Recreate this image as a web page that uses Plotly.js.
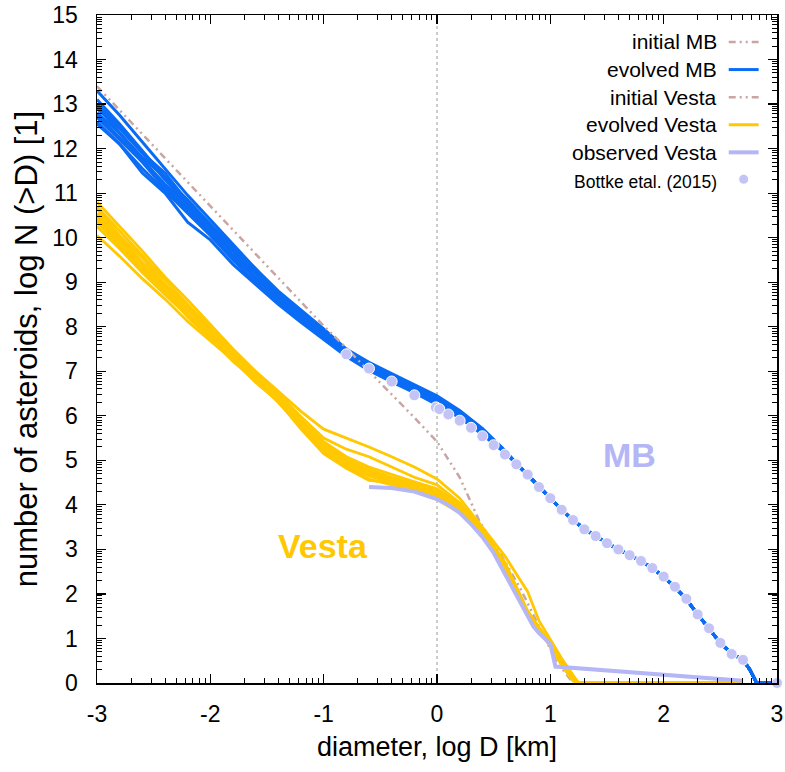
<!DOCTYPE html>
<html>
<head>
<meta charset="utf-8">
<script src="https://cdn.plot.ly/plotly-3.0.1.min.js"></script>
<style>html,body{margin:0;padding:0;background:#fff}#plot{width:785px;height:772px}</style>
</head>
<body>
<div id="plot"></div>
<script>
// ---------- data ----------
const mbX = [-3,-2.8,-2.6,-2.4,-2.2,-2,-1.8,-1.6,-1.4,-1.2,-1,-0.8,-0.6,-0.4,-0.2,0,0.2,0.4,0.6];
const mb1  = [13.3,12.75,12.15,11.55,10.95,10.4,9.85,9.3,8.8,8.38,7.95,7.5,7.2,6.95,6.7,6.45,6.12,5.72,5.22];
const mb2  = [13.1,12.55,11.95,11.35,10.85,10.3,9.8,9.25,8.75,8.3,7.9,7.48,7.18,6.92,6.66,6.4,6.08,5.7,5.21];
const mb3  = [12.95,12.35,11.8,11.35,10.7,10.25,9.6,9.2,8.65,8.25,7.88,7.45,7.12,6.88,6.62,6.36,6.05,5.66,5.2];
const mb4  = [12.8,12.35,11.75,11.2,10.75,10.1,9.7,9.05,8.7,8.22,7.82,7.4,7.1,6.84,6.6,6.32,6.02,5.64,5.19];
const mb5  = [12.7,12.2,11.7,11.1,10.6,10.1,9.55,9.1,8.6,8.2,7.8,7.38,7.06,6.8,6.56,6.3,6.0,5.62,5.18];
const mb6  = [12.6,12.1,11.55,11.05,10.55,10.05,9.5,9.0,8.55,8.15,7.75,7.35,7.05,6.78,6.54,6.28,5.98,5.6,5.18];
const mb7  = [12.55,12.1,11.45,11.0,10.35,9.95,9.4,8.95,8.5,8.1,7.72,7.33,7.02,6.76,6.52,6.25,5.96,5.58,5.17];
const mb8  = [12.9,12.45,11.9,11.3,10.8,10.2,9.75,9.2,8.72,8.3,7.84,7.44,7.1,6.86,6.58,6.34,6.04,5.65,5.2];
const mb9  = [13.0,12.5,11.9,11.45,10.8,10.3,9.75,9.3,8.7,8.32,7.86,7.44,7.15,6.9,6.64,6.38,6.06,5.68,5.21];
const mb10 = [12.75,12.25,11.7,11.15,10.65,10.15,9.6,9.1,8.62,8.2,7.8,7.4,7.08,6.82,6.57,6.3,6.0,5.63,5.19];
const mbTailX = [0.7,0.8,0.9,1.0,1.1,1.2,1.3,1.4,1.5,1.6,1.7,1.8,1.9,2.0,2.1,2.2,2.3,2.4,2.5,2.6,2.7,2.76,2.82,3.0];
const mbTailY = [4.93,4.68,4.41,4.15,3.89,3.66,3.46,3.3,3.14,3.0,2.87,2.74,2.58,2.38,2.15,1.88,1.54,1.23,0.9,0.66,0.52,0.3,0,0];

const initMbY = [12.7,12.2,11.7,11.1,10.6,10.1,9.55,9.1,8.6,8.2,7.8,7.38,7.06,6.8,6.56,6.3,6.0,5.62,5.18];

const initVestaX = [-3,-2,-1.5,-1,-0.8,-0.6,-0.4,-0.2,0,0.2,0.38,0.55,0.74,0.97,1.05,1.2];
const initVestaY = [13.4,10.7,9.35,8.02,7.52,7.0,6.5,5.96,5.42,4.62,3.6,2.95,2.1,0.9,0.5,0];

const vX = [-3,-2.8,-2.6,-2.4,-2.2,-2,-1.8,-1.6,-1.4,-1.2,-1,-0.8,-0.6,-0.4,-0.2,0,0.2,0.4,0.6,0.8,0.9,1.0,1.1,1.2,1.25,2.7];
const v1  = [10.8,10.25,9.7,9.12,8.6,8.05,7.5,7.0,6.55,6.1,5.7,5.5,5.3,5.08,4.85,4.58,4.15,3.5,2.85,2.05,1.4,0.98,0.55,0.18,0,0];
const v2  = [10.7,10.15,9.58,9.05,8.5,7.98,7.42,6.95,6.5,5.98,5.5,5.25,5.08,4.85,4.62,4.45,4.05,3.45,2.7,1.62,1.25,0.92,0.5,0.14,0,0];
const v3  = [10.65,10.05,9.55,8.95,8.48,7.9,7.45,6.88,6.48,5.9,5.42,5.08,4.85,4.68,4.52,4.36,4.0,3.42,2.66,1.6,1.22,0.9,0.48,0.12,0,0];
const v4  = [10.55,10.0,9.45,8.95,8.38,7.92,7.35,6.92,6.42,5.85,5.38,5.02,4.8,4.62,4.48,4.3,3.96,3.4,2.64,1.58,1.2,0.88,0.46,0.1,0,0];
const v5  = [10.5,9.98,9.42,8.88,8.4,7.82,7.38,6.82,6.45,5.82,5.32,4.98,4.75,4.58,4.44,4.26,3.93,3.38,2.62,1.57,1.18,0.86,0.44,0.08,0,0];
const v6  = [10.45,9.92,9.38,8.85,8.3,7.8,7.28,6.85,6.38,5.78,5.28,4.95,4.7,4.55,4.4,4.22,3.9,3.36,2.6,1.56,1.17,0.85,0.43,0.07,0,0];
const v7  = [10.4,9.85,9.35,8.78,8.3,7.72,7.3,6.78,6.35,5.72,5.22,4.9,4.65,4.5,4.35,4.18,3.86,3.33,2.6,1.55,1.16,0.84,0.42,0.06,0,0];
const v8  = [10.35,9.82,9.28,8.8,8.22,7.75,7.22,6.8,6.3,5.75,5.18,4.85,4.58,4.45,4.3,4.12,3.82,3.3,2.58,1.54,1.15,0.83,0.4,0.05,0,0];
const v9  = [10.25,9.75,9.22,8.72,8.25,7.8,7.32,6.85,6.4,5.8,5.25,4.92,4.68,4.52,4.38,4.2,3.88,3.35,2.61,1.56,1.17,0.85,0.43,0.07,0,0];
const v10 = [10.05,9.58,9.08,8.62,8.12,7.68,7.25,6.75,6.32,5.7,5.15,4.82,4.55,4.5,4.34,4.15,3.84,3.32,2.59,1.55,1.16,0.84,0.42,0.06,0,0];

const obsVestaX = [-0.6,-0.4,-0.2,0,0.1,0.2,0.3,0.4,0.5,0.6,0.7,0.8,0.85,0.9,0.95,1.0,1.045,2.7];
const obsVestaY = [4.4,4.38,4.3,4.13,4.0,3.82,3.57,3.28,2.92,2.44,2.0,1.5,1.27,1.12,1.0,0.88,0.37,0.05];

const bottkeX = [-0.8,-0.6,-0.4,-0.2,-0.01,0.02,0.1,0.2,0.3,0.4,0.5,0.6,0.7,0.8,0.9,1.0,1.1,1.2,1.3,1.4,1.5,1.6,1.7,1.8,1.9,2.0,2.1,2.2,2.3,2.4,2.5,2.6,2.7,3.0];
const bottkeY = [7.38,7.06,6.77,6.46,6.19,6.15,6.03,5.89,5.73,5.54,5.34,5.13,4.91,4.68,4.40,4.15,3.89,3.66,3.45,3.30,3.14,3.00,2.87,2.74,2.58,2.39,2.16,1.89,1.54,1.23,0.90,0.65,0.52,0.0];

const xTicks = [-3,-2,-1,0,1,2,3];
const yTicks = [0,1,2,3,4,5,6,7,8,9,10,11,12,13,14,15];
const legendLabels = ["initial MB","evolved MB","initial Vesta","evolved Vesta","observed Vesta","Bottke etal. (2015)"];

// ---------- styles ----------
const C_BLUE = "#0a6cf5";
const C_GOLD = "#ffc800";
const C_LAV = "#b4b6f6";
const C_DOT = "#c3c4f5";
const C_ROSE = "#c9a5a3";
const DASHDOT = "7px,4px,2px,4px,2px,4px";
const FONT = "Liberation Sans, Arial, sans-serif";

const traces = [];
traces.push({x: mbX.concat(mbTailX), y: initMbY.concat(mbTailY), mode: "lines",
  line: {color: C_ROSE, width: 2, dash: DASHDOT}, hoverinfo: "skip"});
[mb1,mb2,mb3,mb4,mb5,mb6,mb7,mb8,mb9,mb10].forEach(r => {
  traces.push({x: mbX.concat(mbTailX), y: r.concat(mbTailY), mode: "lines",
    line: {color: C_BLUE, width: 3}, hoverinfo: "skip"});
});
traces.push({x: initVestaX, y: initVestaY, mode: "lines",
  line: {color: C_ROSE, width: 2.5, dash: DASHDOT}, hoverinfo: "skip"});
[v1,v2,v3,v4,v5,v6,v7,v8,v9,v10].forEach(r => {
  traces.push({x: vX, y: r, mode: "lines", line: {color: C_GOLD, width: 2.8}, hoverinfo: "skip"});
});
traces.push({x: obsVestaX, y: obsVestaY, mode: "lines", line: {color: C_LAV, width: 4}, hoverinfo: "skip"});
traces.push({x: bottkeX, y: bottkeY, mode: "markers", cliponaxis: false,
  marker: {color: C_DOT, size: 11, line: {color: "#ffffff", width: 1}}, hoverinfo: "skip"});

// minor log-style ticks
const minorX = [], minorY = [];
for (let k = -3; k < 3; k++) for (let m = 2; m <= 9; m++) minorX.push(k + Math.log10(m));
for (let k = 0; k < 15; k++) for (let m = 2; m <= 9; m++) minorY.push(k + Math.log10(m));

// manual legend (symbols on the right, gnuplot style)
const annotations = [];
const shapes = [];
const rowTop = 0.9596, rowStep = 0.0413;
const legendStyles = [
  {type: "line", color: C_ROSE, dash: DASHDOT, width: 2.5},
  {type: "line", color: C_BLUE, dash: "solid", width: 3},
  {type: "line", color: C_ROSE, dash: DASHDOT, width: 2.5},
  {type: "line", color: C_GOLD, dash: "solid", width: 3},
  {type: "line", color: C_LAV, dash: "solid", width: 4},
  {type: "dot", color: C_DOT}
];
legendLabels.forEach((lab, i) => {
  const yy = rowTop - i * rowStep - (i === 5 ? 0.003 : 0);
  annotations.push({xref: "paper", yref: "paper", x: 0.914, y: yy, xanchor: "right", yanchor: "middle",
    text: lab, showarrow: false, font: {family: FONT, size: i === 5 ? 17.5 : 21, color: "#000"}});
  const st = legendStyles[i];
  if (st.type === "line") {
    shapes.push({type: "line", xref: "paper", yref: "paper", x0: 0.929, x1: 0.973, y0: yy, y1: yy,
      line: {color: st.color, width: st.width, dash: st.dash}});
  } else {
    shapes.push({type: "circle", xref: "paper", yref: "paper", xsizemode: "pixel", ysizemode: "pixel",
      xanchor: 0.951, yanchor: yy + 0.004, x0: -5, x1: 5, y0: -5, y1: 5,
      fillcolor: st.color, line: {color: "#ffffff", width: 1}});
  }
});
// vertical dotted line at log D = 0
shapes.push({type: "line", xref: "x", yref: "paper", x0: 0, x1: 0, y0: 0, y1: 1,
  line: {color: "#999999", width: 1, dash: "dot"}, layer: "below"});

annotations.push({x: 1.70, y: 5.12, xref: "x", yref: "y", text: "<b>MB</b>", showarrow: false,
  font: {family: FONT, size: 34, color: C_LAV}});
annotations.push({x: -1.01, y: 3.08, xref: "x", yref: "y", text: "<b>Vesta</b>", showarrow: false,
  font: {family: FONT, size: 34, color: C_GOLD}});

const axisCommon = {
  showgrid: false, zeroline: false, showline: true, linecolor: "#000", linewidth: 1.5,
  mirror: "ticks", ticks: "inside", ticklen: 9, tickwidth: 1.2, tickcolor: "#000",
  tickfont: {family: FONT, size: 23, color: "#000"}, tickmode: "array"
};

const layout = {
  width: 785, height: 772,
  margin: {l: 97, r: 8, t: 15, b: 89},
  paper_bgcolor: "#fff", plot_bgcolor: "#fff",
  showlegend: false,
  xaxis: Object.assign({}, axisCommon, {
    range: [-3, 3], tickvals: xTicks, ticktext: xTicks.map(String), ticklabelstandoff: 10,
    minor: {tickmode: "array", tickvals: minorX, ticks: "inside", ticklen: 5, tickwidth: 1, tickcolor: "#000"},
    title: {text: "diameter, log D [km]", font: {family: FONT, size: 27, color: "#000"}, standoff: 11}
  }),
  yaxis: Object.assign({}, axisCommon, {
    range: [0, 15], tickvals: yTicks, ticktext: yTicks.map(String), ticklabelstandoff: 13,
    minor: {tickmode: "array", tickvals: minorY, ticks: "inside", ticklen: 5, tickwidth: 1, tickcolor: "#000"},
    title: {text: "number of asteroids, log N (>D) [1]", font: {family: FONT, size: 31, color: "#000"}, standoff: 5}
  }),
  annotations: annotations,
  shapes: shapes
};

Plotly.newPlot("plot", traces, layout, {displayModeBar: false, staticPlot: true});
</script>
</body>
</html>
